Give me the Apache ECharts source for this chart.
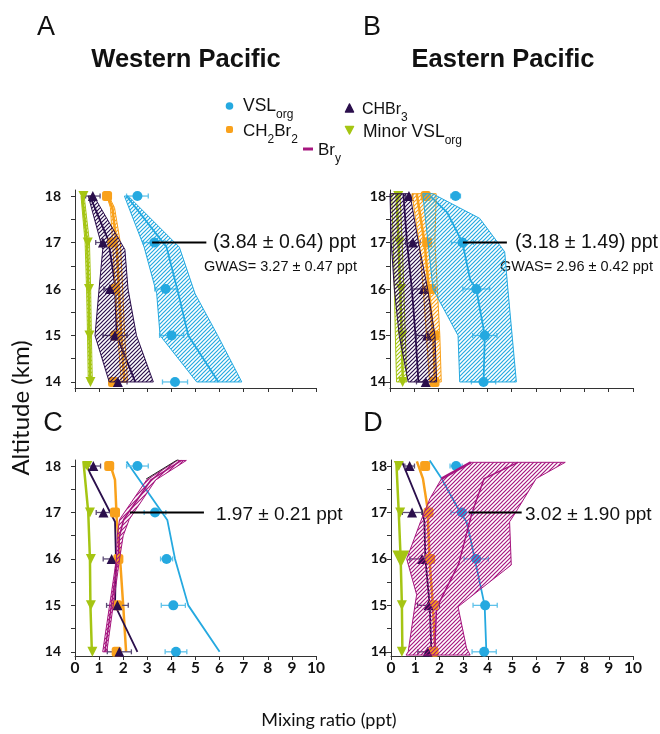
<!DOCTYPE html>
<html>
<head>
<meta charset="UTF-8">
<title>VSL / Bry profiles</title>
<script src="https://cdn.jsdelivr.net/npm/echarts@6/dist/echarts.min.js"></script>
<style>
  body { margin: 0; background: #fff; }
  #chart { width: 660px; height: 734px; }
</style>
</head>
<body>
<div id="chart"></div>
<script>
// observation altitudes (km)
var altObs = [18, 17, 16, 15, 14];
var altTicks = [14, 15, 16, 17, 18];
var altMinor = [14, 14.5, 15, 15.5, 16, 16.5, 17, 17.5, 18];

// ---- panel A : Western Pacific, VSL ----
var vslObsA = [2.59, 3.29, 3.76, 4.01, 4.15];
var vslErrA = [0.45, 0.45, 0.45, 0.5, 0.52];
var chbr3ObsA = [0.74, 1.16, 1.45, 1.66, 1.78];
var chbr3ErrA = [0.3, 0.3, 0.25, 0.5, 0.38];
var ch2br2ObsA = [1.33, 1.55, 1.65, 1.68, 1.58];
var minorObsA = [0.35, 0.53, 0.58, 0.6, 0.64];
var vslLineA = [[2.14, 18], [3.8, 16.9], [4.29, 15.9], [4.7, 15], [5.95, 14]];
var vslLoA = [[2.05, 18], [2.87, 16.9], [3.39, 15.9], [3.53, 15], [5.05, 14]];
var vslHiA = [[2.21, 18], [4.33, 16.9], [4.98, 15.9], [5.92, 15], [6.92, 14]];
var chbr3LineA = [[0.62, 18], [1.38, 17.05], [1.66, 16.1], [1.73, 15], [2.5, 14]];
var chbr3LoA = [[0.55, 18], [1.15, 16.85], [1.0, 16], [0.83, 15], [1.42, 14]];
var chbr3HiA = [[0.78, 18], [2.07, 16.85], [2.2, 16], [2.55, 15], [3.25, 14]];
var ch2br2LineA = [[1.35, 18], [1.55, 17.75], [1.72, 17], [1.82, 16], [1.92, 15], [2.05, 14]];
var ch2br2LoA = [[1.32, 18], [1.47, 17.75], [1.56, 17], [1.67, 16], [1.78, 15], [1.92, 14]];
var ch2br2HiA = [[1.4, 18], [1.64, 17.75], [1.88, 17], [1.98, 16], [2.06, 15], [2.18, 14]];
var minorLineA = [[0.3, 18], [0.5, 17], [0.56, 16], [0.6, 15], [0.63, 14]];
var minorLoA = [[0.25, 18], [0.42, 17], [0.48, 16], [0.52, 15], [0.55, 14]];
var minorHiA = [[0.38, 18], [0.6, 17], [0.65, 16], [0.68, 15], [0.72, 14]];

// ---- panel B : Eastern Pacific, VSL ----
var vslObsB = [2.70, 2.98, 3.55, 3.90, 3.85];
var vslErrB = [0.2, 0.45, 0.55, 0.5, 0.5];
var chbr3ObsB = [0.78, 0.94, 1.38, 1.53, 1.47];
var chbr3ErrB = [0.15, 0.3, 0.5, 0.45, 0.38];
var ch2br2ObsB = [1.47, 1.53, 1.67, 1.83, 1.83];
var minorObsB = [0.34, 0.38, 0.45, 0.5, 0.52];
var vslLineB = [[1.55, 18.05], [2.35, 17.65], [2.98, 17], [3.3, 16.2], [3.55, 16], [3.9, 15], [3.85, 14]];
var vslLoB = [[1.35, 18.05], [1.77, 16], [2.8, 15], [2.87, 14]];
var vslHiB = [[1.75, 18.05], [3.69, 17.52], [4.72, 16.8], [4.85, 16], [5.2, 14]];
var chbr3LineB = [[0.55, 18.05], [0.7, 17], [0.9, 16], [1.05, 15], [1.17, 14]];
var chbr3LoB = [[0.0, 18.05], [0.05, 17], [0.18, 16], [0.38, 15], [0.75, 14]];
var chbr3HiB = [[0.82, 18.05], [1.17, 17], [1.55, 16], [1.85, 15], [1.92, 14]];
var ch2br2LineB = [[1.1, 18.05], [1.42, 17], [1.6, 16], [1.78, 15], [1.85, 14]];
var ch2br2LoB = [[0.9, 18.05], [1.2, 17], [1.37, 16], [1.5, 15], [1.63, 14]];
var ch2br2HiB = [[1.9, 18.05], [1.85, 17], [1.95, 16], [2.05, 15], [2.11, 14]];
var minorLineB = [[0.27, 18.05], [0.35, 17], [0.42, 16], [0.48, 15], [0.53, 14]];
var minorLoB = [[0.07, 18.05], [0.13, 17], [0.18, 16], [0.22, 15], [0.27, 14]];
var minorHiB = [[0.41, 18.05], [0.5, 17], [0.57, 16], [0.63, 15], [0.69, 14]];

// ---- panel C : Western Pacific, Bry ----
var vslObsC = [2.59, 3.32, 3.80, 4.08, 4.19];
var vslErrC = [0.45, 0.45, 0.25, 0.5, 0.45];
var chbr3ObsC = [0.76, 1.18, 1.52, 1.76, 1.84];
var chbr3ErrC = [0.3, 0.3, 0.35, 0.45, 0.5];
var ch2br2ObsC = [1.42, 1.66, 1.8, 1.75, 1.73];
var minorObsC = [0.51, 0.62, 0.66, 0.66, 0.72];
var vslLineC = [[2.14, 18.1], [3.83, 16.84], [4.15, 16], [4.7, 15], [6.0, 14]];
var chbr3LineC = [[0.42, 18.1], [0.62, 17.85], [1.66, 16.8], [1.7, 16], [1.66, 15], [2.59, 14]];
var ch2br2LineC = [[1.42, 18.1], [1.66, 17.7], [1.73, 16.87], [1.87, 16], [2.0, 15], [2.12, 14]];
var minorLineC = [[0.35, 18.1], [0.55, 17], [0.62, 16], [0.64, 15], [0.7, 14]];
var bryLineC = [[4.42, 18.12], [3.15, 17.7], [2.02, 16.85], [1.85, 16.5], [1.78, 16], [1.24, 14]];
var bryLoC = [[4.25, 18.12], [2.97, 17.7], [1.85, 16.85], [1.75, 16.5], [1.72, 16], [1.15, 14]];
var bryHiC = [[4.62, 18.12], [3.35, 17.7], [2.25, 16.85], [2.0, 16.5], [1.85, 16], [1.32, 14]];
var bryEdgeC = [[4.3, 18.15], [2.95, 17.72]];

// ---- panel D : Eastern Pacific, Bry ----
var vslObsD = [2.69, 2.93, 3.52, 3.89, 3.85];
var vslErrD = [0.25, 0.45, 0.5, 0.5, 0.5];
var chbr3ObsD = [0.77, 0.87, 1.28, 1.55, 1.51];
var chbr3ErrD = [0.2, 0.4, 0.5, 0.45, 0.4];
var ch2br2ObsD = [1.41, 1.55, 1.62, 1.76, 1.76];
var minorObsD = [0.32, 0.38, 0.41, 0.45, 0.45];
var vslLineD = [[1.6, 18.12], [2.09, 17.73], [2.84, 17.02], [3.12, 16.8], [3.3, 16.4], [3.46, 16], [3.87, 15], [3.94, 14]];
var chbr3LineD = [[0.45, 18.1], [1.3, 17.02], [1.38, 16.8], [1.42, 16], [1.6, 15], [1.67, 14]];
var ch2br2LineD = [[1.07, 18.1], [1.32, 17.73], [1.51, 17.09], [1.59, 16], [1.73, 15], [1.83, 14]];
var minorLineD = [[0.22, 18.1], [0.32, 17], [0.4, 16], [0.45, 15], [0.47, 14]];
var bryLineD = [[5.25, 18.08], [3.85, 17.73], [3.35, 17.0], [2.8, 15.9], [1.88, 14.94], [1.8, 13.95]];
var bryLoD = [[3.3, 18.08], [2.09, 17.73], [1.61, 17.3], [1.22, 16.8], [0.65, 16.0], [1.06, 15.23], [0.99, 15.0], [0.71, 14.0], [0.62, 13.93]];
var bryHiD = [[7.2, 18.08], [6.0, 17.73], [5.15, 17.0], [4.9, 16.8], [4.97, 15.87], [2.77, 14.97], [3.12, 14.08], [3.27, 13.93]];

// pointer lines of the annotations
var noteA = [[3.2, 17], [5.45, 17]];
var noteB = [[3.0, 17], [4.81, 17]];
var noteC = [[2.28, 17], [5.35, 17]];
var noteD = [[3.21, 17], [5.4, 17]];

var cVsl = '#25a9e0', cCh2 = '#f9a11b', cChb = '#2b0f4c', cMin = '#a5c513', cBry = '#a6167f';
var sansFont = '"Liberation Sans", Arial, sans-serif';
var numFont = 'Lato, "Liberation Sans", sans-serif';

// diagonal hatch pattern
function hatch(color) {
    var c = document.createElement('canvas');
    c.width = 4; c.height = 4;
    var ctx = c.getContext('2d');
    ctx.strokeStyle = color;
    ctx.lineWidth = 1.2;
    ctx.beginPath();
    ctx.moveTo(0, 4); ctx.lineTo(4, 0);
    ctx.moveTo(-1, 1); ctx.lineTo(1, -1);
    ctx.moveTo(3, 5); ctx.lineTo(5, 3);
    ctx.stroke();
    return { image: c, repeat: 'repeat' };
}

function pts(vals) {
    return vals.map(function (v, i) { return [v, altObs[i]]; });
}

function lineS(g, data, color, width, z) {
    return {
        type: 'line', xAxisIndex: g, yAxisIndex: g, data: data, z: z || 2,
        showSymbol: false, silent: true, animation: false,
        lineStyle: { color: color, width: width }
    };
}

function errS(g, vals, errs, color) {
    return {
        type: 'custom', xAxisIndex: g, yAxisIndex: g, z: 3, silent: true, animation: false,
        data: vals.map(function (v, i) { return [v, altObs[i], errs[i]]; }),
        encode: { x: 0, y: 1 },
        renderItem: function (params, api) {
            var v = api.value(0), a = api.value(1), e = api.value(2);
            var p0 = api.coord([v - e, a]), p1 = api.coord([v + e, a]);
            var st = { stroke: color, lineWidth: 1.3 };
            return {
                type: 'group', children: [
                    { type: 'line', shape: { x1: p0[0], y1: p0[1], x2: p1[0], y2: p1[1] }, style: st },
                    { type: 'line', shape: { x1: p0[0], y1: p0[1] - 2.5, x2: p0[0], y2: p0[1] + 2.5 }, style: st },
                    { type: 'line', shape: { x1: p1[0], y1: p1[1] - 2.5, x2: p1[0], y2: p1[1] + 2.5 }, style: st }
                ]
            };
        }
    };
}

function dotS(g, vals, symbol, color, size, rotate, bigIndex) {
    return {
        type: 'scatter', xAxisIndex: g, yAxisIndex: g, z: 4, silent: true, animation: false,
        data: pts(vals), symbol: symbol, symbolRotate: rotate || 0,
        symbolSize: function (v, p) { return p.dataIndex === bigIndex ? 17 : size; },
        itemStyle: { color: color, opacity: 1 }
    };
}

function bandS(g, lo, hi, color) {
    var fill = hatch(color);
    return {
        type: 'custom', xAxisIndex: g, yAxisIndex: g, z: 5, silent: true, animation: false,
        data: [lo[0]], encode: { x: 0, y: 1 },
        renderItem: function (params, api) {
            var ring = lo.map(function (p) { return api.coord(p); })
                .concat(hi.slice().reverse().map(function (p) { return api.coord(p); }));
            return { type: 'polygon', shape: { points: ring }, style: { fill: fill, stroke: color, lineWidth: 1 } };
        }
    };
}

var grids = [
    { left: 75, top: 190, width: 241, height: 198 },
    { left: 390, top: 190, width: 243, height: 198 },
    { left: 75, top: 460, width: 241, height: 196 },
    { left: 391, top: 460, width: 242, height: 196 }
];
var yRanges = [[13.87, 18.13], [13.87, 18.13], [13.91, 18.13], [13.91, 18.13]];
var labelMargins = [14, 4, 14, 4];

var xAxes = grids.map(function (g, i) {
    return {
        type: 'value', gridIndex: i, min: 0, max: 10, interval: 1, position: 'bottom',
        axisLine: { show: true, onZero: false, lineStyle: { color: '#333', width: 1 } },
        axisTick: { show: true, inside: false, length: 4, lineStyle: { color: '#333' } },
        axisLabel: {
            show: i >= 2, margin: 4, color: '#111', fontFamily: numFont,
            fontWeight: 'bold', fontSize: 15.5
        },
        splitLine: { show: false }
    };
});
var yAxes = grids.map(function (g, i) {
    return {
        type: 'value', gridIndex: i, min: yRanges[i][0], max: yRanges[i][1], position: 'left',
        axisLine: { show: true, onZero: false, lineStyle: { color: '#333', width: 1 } },
        axisTick: { show: true, inside: false, length: 4, customValues: altMinor, lineStyle: { color: '#333' } },
        axisLabel: {
            show: true, customValues: altTicks, margin: labelMargins[i], color: '#111',
            fontFamily: numFont, fontWeight: 'bold', fontSize: 14
        },
        splitLine: { show: false }
    };
});

var series = [
    // A
    lineS(0, minorLineA, cMin, 2.5), lineS(0, ch2br2LineA, cCh2, 2.5),
    lineS(0, chbr3LineA, cChb, 1.8), lineS(0, vslLineA, cVsl, 1.8),
    errS(0, vslObsA, vslErrA, '#5fc2ea'), errS(0, chbr3ObsA, chbr3ErrA, '#5a4a75'),
    dotS(0, minorObsA, 'triangle', cMin, 10, 180), dotS(0, ch2br2ObsA, 'roundRect', cCh2, 10),
    dotS(0, chbr3ObsA, 'triangle', cChb, 10), dotS(0, vslObsA, 'circle', cVsl, 10),
    bandS(0, minorLoA, minorHiA, cMin), bandS(0, ch2br2LoA, ch2br2HiA, cCh2),
    bandS(0, chbr3LoA, chbr3HiA, cChb), bandS(0, vslLoA, vslHiA, cVsl),
    lineS(0, noteA, '#000', 2, 6),
    // B
    lineS(1, minorLineB, cMin, 2.5), lineS(1, ch2br2LineB, cCh2, 2.5),
    lineS(1, chbr3LineB, cChb, 1.8), lineS(1, vslLineB, cVsl, 1.8),
    errS(1, vslObsB, vslErrB, '#5fc2ea'), errS(1, chbr3ObsB, chbr3ErrB, '#5a4a75'),
    dotS(1, minorObsB, 'triangle', cMin, 10, 180), dotS(1, ch2br2ObsB, 'roundRect', cCh2, 10),
    dotS(1, chbr3ObsB, 'triangle', cChb, 10), dotS(1, vslObsB, 'circle', cVsl, 10),
    bandS(1, minorLoB, minorHiB, cMin), bandS(1, ch2br2LoB, ch2br2HiB, cCh2),
    bandS(1, chbr3LoB, chbr3HiB, cChb), bandS(1, vslLoB, vslHiB, cVsl),
    lineS(1, noteB, '#000', 2, 6),
    // C
    lineS(2, minorLineC, cMin, 2.5), lineS(2, ch2br2LineC, cCh2, 2.5),
    lineS(2, chbr3LineC, cChb, 1.8), lineS(2, vslLineC, cVsl, 1.8),
    lineS(2, bryLineC, cBry, 1.5),
    errS(2, vslObsC, vslErrC, '#5fc2ea'), errS(2, chbr3ObsC, chbr3ErrC, '#5a4a75'),
    dotS(2, minorObsC, 'triangle', cMin, 10, 180), dotS(2, ch2br2ObsC, 'roundRect', cCh2, 10),
    dotS(2, chbr3ObsC, 'triangle', cChb, 10), dotS(2, vslObsC, 'circle', cVsl, 10),
    bandS(2, bryLoC, bryHiC, cBry), lineS(2, bryEdgeC, '#222', 1, 5),
    lineS(2, noteC, '#000', 2, 6),
    // D
    lineS(3, minorLineD, cMin, 2.5), lineS(3, ch2br2LineD, cCh2, 2.5),
    lineS(3, chbr3LineD, cChb, 1.8), lineS(3, vslLineD, cVsl, 1.8),
    lineS(3, bryLineD, cBry, 1.5),
    errS(3, vslObsD, vslErrD, '#5fc2ea'), errS(3, chbr3ObsD, chbr3ErrD, '#5a4a75'),
    dotS(3, minorObsD, 'triangle', cMin, 10, 180, 2), dotS(3, ch2br2ObsD, 'roundRect', cCh2, 10),
    dotS(3, chbr3ObsD, 'triangle', cChb, 10), dotS(3, vslObsD, 'circle', cVsl, 10),
    bandS(3, bryLoD, bryHiD, cBry), lineS(3, bryLoD.slice(0, 2), cBry, 2.5, 5),
    lineS(3, noteD, '#000', 2, 6)
];

// text helpers (legend with subscripts)
var mctx = document.createElement('canvas').getContext('2d');
function tw(t, size) { mctx.font = size + 'px "Liberation Sans"'; return mctx.measureText(t).width; }
function txt(x, y, t, size, opts) {
    opts = opts || {};
    return {
        type: 'text', x: x, y: y, rotation: opts.rot || 0, silent: true,
        style: {
            text: t, fontSize: size, fontFamily: opts.font || sansFont, fontWeight: opts.weight || 'normal',
            fill: '#111', textAlign: opts.align || 'left', textVerticalAlign: 'middle',
            align: opts.align || 'left', verticalAlign: 'middle'
        }
    };
}
function subLabel(x, y, parts, size, subSize) {
    var out = [], cx = x;
    parts.forEach(function (p) {
        var fs = p[1] ? subSize : size;
        out.push(txt(cx, p[1] ? y + size * 0.5 : y, p[0], fs));
        cx += tw(p[0], fs);
    });
    return out;
}

var graphic = [
    txt(46, 28, 'A', 27, { align: 'center' }),
    txt(372, 28, 'B', 27, { align: 'center' }),
    txt(53, 424, 'C', 27, { align: 'center' }),
    txt(373, 424, 'D', 27, { align: 'center' }),
    txt(186, 60, 'Western Pacific', 25.5, { align: 'center', weight: 'bold' }),
    txt(503, 60, 'Eastern Pacific', 25.5, { align: 'center', weight: 'bold' }),
    txt(21, 408, 'Altitude (km)', 24, { align: 'center', rot: Math.PI / 2, font: numFont }),
    txt(329, 720, 'Mixing ratio (ppt)', 18, { align: 'center', font: numFont }),
    txt(213, 243, '(3.84 \u00b1 0.64) ppt', 19.5),
    txt(204, 267, 'GWAS= 3.27 \u00b1 0.47 ppt', 14.5),
    txt(515, 243, '(3.18 \u00b1 1.49) ppt', 19.5),
    txt(500, 267, 'GWAS= 2.96 \u00b1 0.42 ppt', 14.5),
    txt(216, 515, '1.97 \u00b1 0.21 ppt', 19),
    txt(525, 515, '3.02 \u00b1 1.90 ppt', 19),
    // legend markers
    { type: 'circle', shape: { cx: 229.5, cy: 106, r: 3.8 }, style: { fill: cVsl }, silent: true },
    { type: 'rect', shape: { x: 226, y: 126, width: 7, height: 7, r: 2 }, style: { fill: cCh2 }, silent: true },
    { type: 'polygon', shape: { points: [[349.5, 104], [345.5, 112], [353.5, 112]] }, style: { fill: cChb, stroke: cChb, lineWidth: 1.5, lineJoin: 'round' }, silent: true },
    { type: 'polygon', shape: { points: [[349.5, 134], [345.5, 126.5], [353.5, 126.5]] }, style: { fill: cMin, stroke: cMin, lineWidth: 1.5, lineJoin: 'round' }, silent: true },
    { type: 'rect', shape: { x: 303, y: 147.5, width: 10, height: 3 }, style: { fill: cBry }, silent: true }
]
    .concat(subLabel(243, 106, [['VSL', 0], ['org', 1]], 17.5, 12))
    .concat(subLabel(243, 131, [['CH', 0], ['2', 1], ['Br', 0], ['2', 1]], 17, 12))
    .concat(subLabel(362, 110, [['CHBr', 0], ['3', 1]], 16, 12))
    .concat(subLabel(363, 132, [['Minor VSL', 0], ['org', 1]], 17.5, 12))
    .concat(subLabel(318, 150, [['Br', 0], ['y', 1]], 17, 12));

var chart = echarts.init(document.getElementById('chart'), null, { renderer: 'canvas' });
chart.setOption({
    backgroundColor: '#fff',
    animation: false,
    grid: grids,
    xAxis: xAxes,
    yAxis: yAxes,
    series: series,
    graphic: graphic
});
</script>
</body>
</html>
